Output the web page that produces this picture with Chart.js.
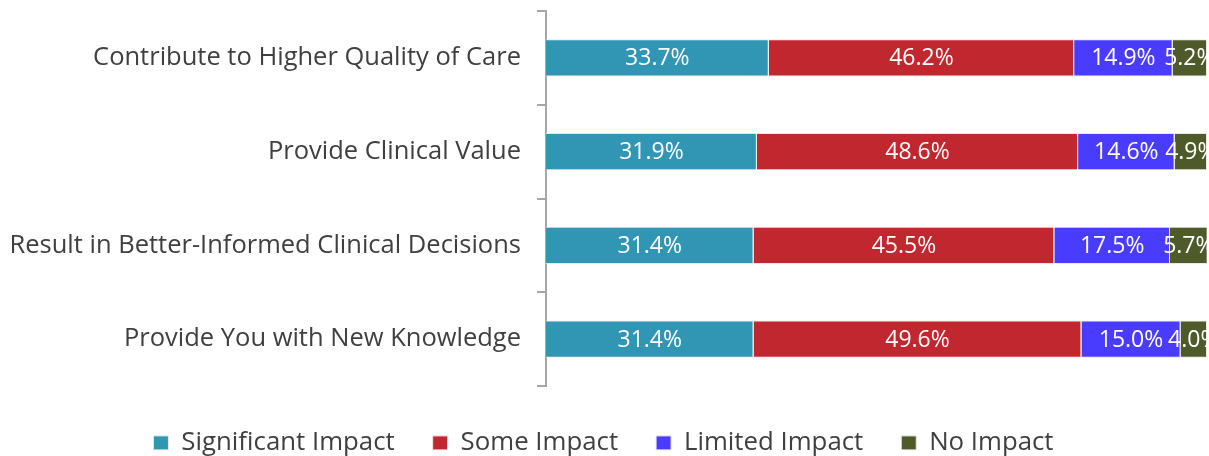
<!DOCTYPE html>
<html>
<head>
<meta charset="utf-8">
<script src="https://cdn.jsdelivr.net/npm/chart.js@4"></script>
<style>
  html, body { margin: 0; padding: 0; background: #fff; }
  #wrap { width: 1209px; height: 456px; position: relative; }
</style>
</head>
<body>
<div id="wrap"><canvas id="chart"></canvas></div>
<script>
const categories = [
    'Contribute to Higher Quality of Care',
    'Provide Clinical Value',
    'Result in Better-Informed Clinical Decisions',
    'Provide You with New Knowledge',
];
const significantImpact = [33.7, 31.9, 31.4, 31.4];
const someImpact = [46.2, 48.6, 45.5, 49.6];
const limitedImpact = [14.9, 14.6, 17.5, 15.0];
const noImpact = [5.2, 4.9, 5.7, 4.0];

const seriesNames = ['Significant Impact', 'Some Impact', 'Limited Impact', 'No Impact'];
const seriesColors = ['#3195B4', '#C1272F', '#4A3CFF', '#4F5A2A'];
const FONT = '"Open Sans", sans-serif';

// white percentage labels centred in each segment
const segmentLabels = {
    id: 'segmentLabels',
    afterDatasetsDraw(chart) {
        const ctx = chart.ctx;
        ctx.save();
        ctx.font = `23px ${FONT}`;
        ctx.fillStyle = '#ffffff';
        ctx.textAlign = 'center';
        ctx.textBaseline = 'middle';
        chart.data.datasets.forEach((ds, i) => {
            chart.getDatasetMeta(i).data.forEach((bar, j) => {
                const cx = (bar.x + bar.base) / 2;
                ctx.fillText(ds.data[j].toFixed(1) + '%', cx, bar.y + 1);
            });
        });
        ctx.restore();
    },
};

// keep the wide horizontal item spacing without the tall legend box
const legendHeight = {
    id: 'legendHeight',
    beforeLayout(chart) {
        const lg = chart.legend;
        if (lg && !lg._fixedFit) {
            const fit = lg.fit.bind(lg);
            lg.fit = function () {
                fit();
                this.height = 70;
            };
            lg._fixedFit = true;
        }
    },
    afterLayout(chart) {
        if (chart.legend) {
            chart.legend.top += 6;
            chart.legend.bottom += 6;
        }
    },
};

const datasets = [significantImpact, someImpact, limitedImpact, noImpact].map((values, i) => ({
    label: seriesNames[i],
    data: values,
    backgroundColor: seriesColors[i],
    borderColor: '#e8e8e8',
    borderWidth: 1,
    barPercentage: 0.395,
    categoryPercentage: 1,
}));

new Chart(document.getElementById('chart'), {
    type: 'bar',
    data: { labels: categories, datasets },
    plugins: [segmentLabels, legendHeight],
    options: {
        indexAxis: 'y',
        responsive: true,
        maintainAspectRatio: false,
        animation: false,
        layout: { padding: { top: 11, right: 2, left: 0, bottom: 0 } },
        plugins: {
            tooltip: { enabled: false },
            legend: {
                position: 'bottom',
                labels: {
                    boxWidth: 15,
                    boxHeight: 14,
                    padding: 38,
                    color: '#404040',
                    font: { family: FONT, size: 25.8 },
                },
            },
        },
        scales: {
            x: {
                stacked: true,
                display: false,
                min: 0,
                max: 100,
            },
            y: {
                stacked: true,
                afterFit(scale) {
                    scale.width = 546;
                    scale.paddingTop = 0;
                    scale.paddingBottom = 0;
                },
                border: { display: true, color: '#a6a6a6', width: 2 },
                grid: {
                    display: true,
                    offset: true,
                    drawOnChartArea: false,
                    drawTicks: true,
                    tickLength: 9,
                    color: '#a6a6a6',
                    lineWidth: 2,
                },
                ticks: {
                    color: '#404040',
                    padding: 16,
                    font: { family: FONT, size: 25.5 },
                },
            },
        },
    },
});
</script>
</body>
</html>
